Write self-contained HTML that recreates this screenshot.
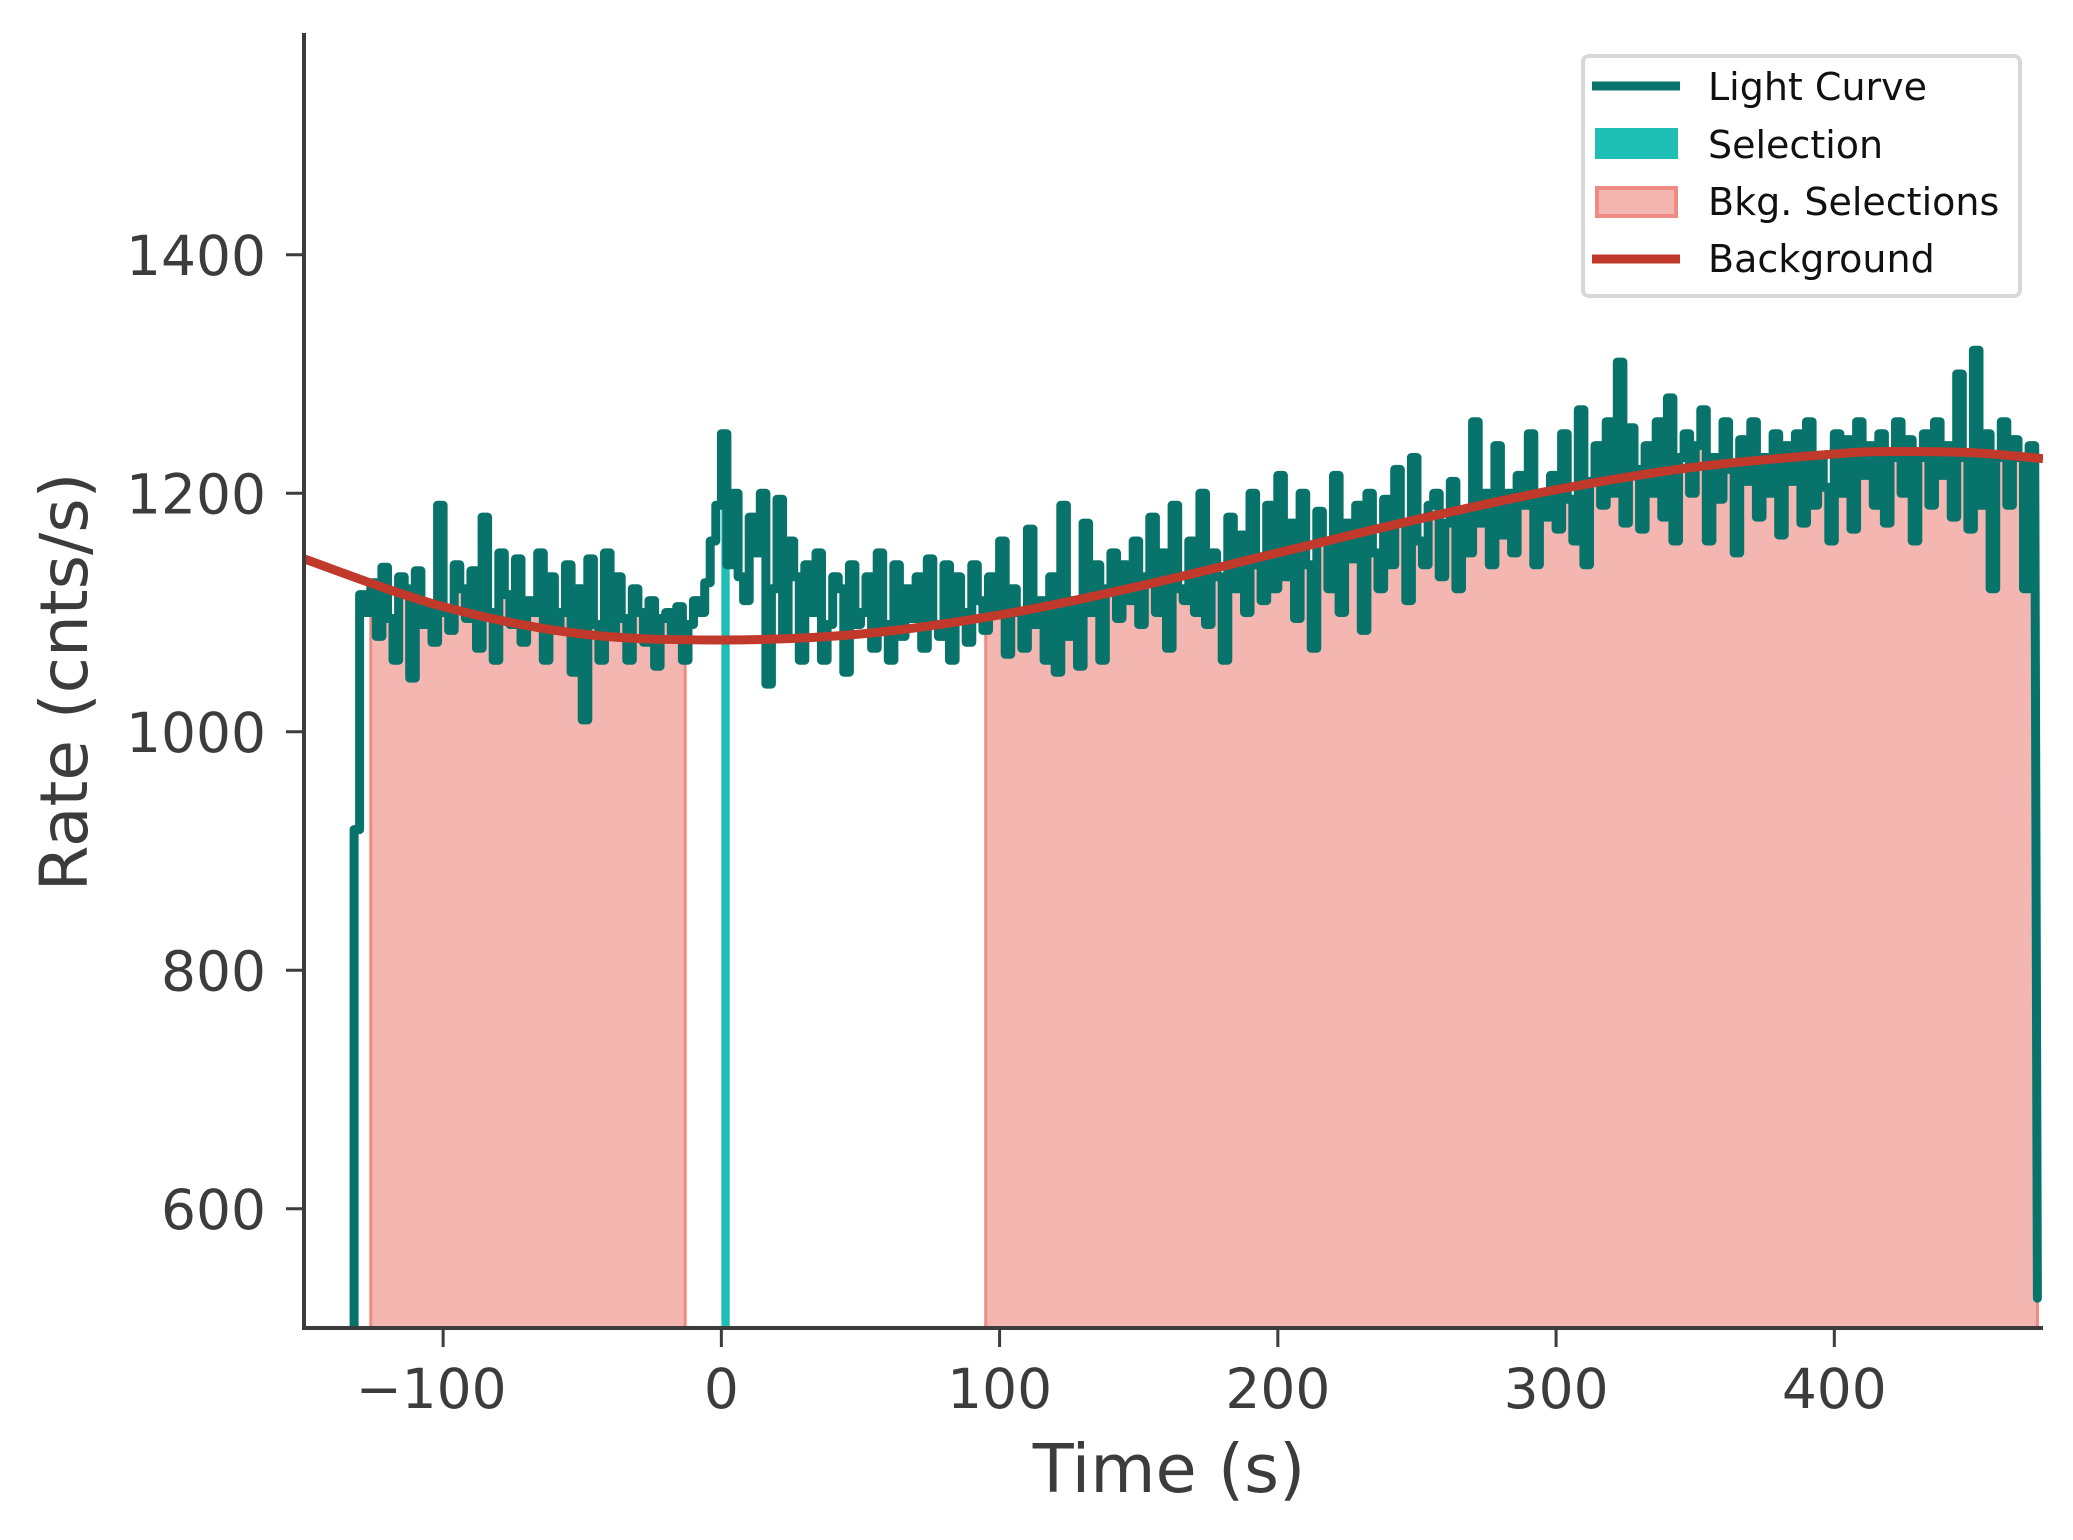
<!DOCTYPE html>
<html><head><meta charset="utf-8"><style>
html,body{margin:0;padding:0;background:#fff;}
svg{display:block;font-family:"DejaVu Sans","Liberation Sans",sans-serif;}
</style></head><body>
<svg id="chart" width="2073" height="1540" viewBox="0 0 2073 1540">
  <defs>
    <clipPath id="plotClip"><rect x="304" y="33" width="1739" height="1295"/></clipPath>
    <clipPath id="bkgClip"></clipPath>
    <clipPath id="selClip"></clipPath>
  </defs>
  <g id="fills" clip-path="url(#plotClip)"></g>
  <g id="series" clip-path="url(#plotClip)"></g>
  <g id="axes"></g>
  <g id="legend">
    <rect x="1583" y="56" width="437" height="240" rx="6" fill="#fff" stroke="#d8d8d8" stroke-width="4"/>
    <line x1="1592" y1="86" x2="1680" y2="86" stroke="#08736b" stroke-width="9"/>
    <text x="1708" y="100" font-size="38" fill="#111">Light Curve</text>
    <rect x="1595" y="128" width="83" height="31" fill="#20bfb5"/>
    <text x="1708" y="158" font-size="38" fill="#111">Selection</text>
    <rect x="1597" y="188" width="79" height="28" fill="#f4b6b1" stroke="#ee8b82" stroke-width="4"/>
    <text x="1708" y="215" font-size="38" fill="#111">Bkg. Selections</text>
    <line x1="1592" y1="259" x2="1680" y2="259" stroke="#c0392b" stroke-width="9"/>
    <text x="1708" y="272" font-size="38" fill="#111">Background</text>
  </g>
</svg>
<script>
const lcStart = -130;
const lcBin = 2;
const lcFirstValue = 918;
const lcLastValue = 525;
const lcEnd = 473;
const lcValues = [
1115,1100,1125,1080,1138,1095,1060,1130,1120,1045,1135,1090,1105,1075,1190,1100,1085,1140,1120,1095,1135,1070,1180,1100,1060,1150,1115,1090,1145,1075,
1110,1100,1150,1060,1130,1085,1100,1140,1050,1120,1010,1145,1090,1060,1150,1080,1130,1095,1060,1120,1100,1075,1110,1055,1095,1100,1080,1105,1060,1090,
1110,1100,1125,1160,1190,1250,1140,1200,1130,1110,1180,1150,1200,1040,1120,1195,1080,1160,1130,1060,1140,1100,1150,1060,1090,1130,1120,1050,1140,1090,
1100,1130,1070,1150,1090,1060,1140,1080,1120,1095,1130,1070,1145,1090,1080,1140,1060,1130,1100,1075,1140,1110,1085,1130,1100,1160,1065,1120,1100,1070,
1170,1090,1110,1060,1130,1050,1190,1080,1110,1055,1175,1100,1140,1060,1120,1150,1095,1140,1110,1160,1090,1130,1180,1100,1150,1070,1190,1120,1110,1160,
1100,1200,1090,1150,1130,1060,1180,1120,1165,1100,1200,1140,1110,1190,1120,1215,1130,1175,1095,1200,1140,1070,1185,1160,1120,1215,1100,1175,1145,1190,
1085,1200,1150,1120,1195,1140,1220,1175,1110,1230,1160,1140,1190,1200,1130,1175,1210,1120,1180,1150,1260,1175,1200,1140,1240,1165,1200,1150,1215,1190,
1250,1140,1200,1180,1215,1170,1250,1195,1160,1270,1140,1210,1240,1190,1260,1200,1310,1175,1255,1220,1170,1240,1200,1260,1180,1280,1160,1230,1250,1200,
1240,1270,1160,1230,1195,1260,1220,1150,1245,1210,1260,1180,1230,1200,1250,1165,1240,1210,1250,1175,1260,1190,1230,1205,1160,1250,1200,1245,1170,1260,
1215,1240,1190,1250,1175,1230,1260,1200,1245,1160,1230,1250,1190,1260,1215,1240,1180,1300,1230,1170,1320,1190,1250,1120,1230,1260,1190,1245,1230,1120,1240];
const bgTimes = [-150,-100,-50,0,50,100,150,200,250,300,350,400,420,450,475];
const bgValues = [1145,1105,1082,1077,1082,1098,1122,1150,1178,1203,1222,1233,1235,1234,1229];
const bkgRanges = [[-126,-13],[95,473]];
const selRange = [0,3];
const xTicks = [-100,0,100,200,300,400];
const yTicks = [600,800,1000,1200,1400];

const NS = "http://www.w3.org/2000/svg";
const X0=304, X1=2043, Y0=1328, Y1=33, XMIN=-150, XMAX=475, YMIN=500, YMAX=1586;
function xs(t){return X0+(t-XMIN)/(XMAX-XMIN)*(X1-X0);}
function ys(v){return Y0-(v-YMIN)/(YMAX-YMIN)*(Y0-Y1);}
function mk(tag, attrs, parent){const e=document.createElementNS(NS,tag);for(const k in attrs)e.setAttribute(k,attrs[k]);parent.appendChild(e);return e;}

let pts=[[xs(-132),ys(500)],[xs(-132),ys(lcFirstValue)],[xs(lcStart),ys(lcFirstValue)]];
lcValues.forEach((v,i)=>{const t0=lcStart+i*lcBin;const t1=Math.min(lcStart+(i+1)*lcBin,lcEnd);if(t0>=lcEnd)return;pts.push([xs(t0),ys(v)]);pts.push([xs(t1),ys(v)]);});
pts.push([xs(lcEnd),ys(lcLastValue)]);
const stepD = "M"+pts.map(p=>p[0].toFixed(1)+","+p[1].toFixed(1)).join("L");
const areaD = stepD + "L"+xs(lcEnd).toFixed(1)+","+Y0+"L"+xs(-132).toFixed(1)+","+Y0+"Z";

const bkgClip=document.getElementById('bkgClip');
bkgRanges.forEach(r=>{mk('rect',{x:xs(r[0]),y:Y1,width:xs(r[1])-xs(r[0]),height:Y0-Y1},bkgClip);});
const selClip=document.getElementById('selClip');
mk('rect',{x:xs(selRange[0]),y:Y1,width:xs(selRange[1])-xs(selRange[0]),height:Y0-Y1},selClip);

const fills=document.getElementById('fills');
const bkgFill=mk('path',{d:areaD,fill:'#f4b6b1','clip-path':'url(#bkgClip)'},fills);


bkgRanges.forEach(r=>{
  const e1=mk('line',{x1:xs(r[0]),y1:Y0,x2:xs(r[0]),y2:ys(1100),stroke:'#ee8b82','stroke-width':3},fills);
  
  
  const e2=mk('line',{x1:xs(r[1]),y1:Y0,x2:xs(r[1]),y2:ys(1100),stroke:'#ee8b82','stroke-width':3},fills);
  
  
});
const selFill=mk('path',{d:areaD,fill:'#20bfb5','clip-path':'url(#selClip)'},fills);



const series=document.getElementById('series');
const lc=mk('path',{d:stepD,fill:'none',stroke:'#08736b','stroke-width':9,'stroke-linejoin':'round','stroke-linecap':'round'},series);


let bd="M"+xs(bgTimes[0])+","+ys(bgValues[0]);
for(let i=0;i<bgTimes.length-1;i++){
  const p0=[xs(bgTimes[Math.max(i-1,0)]),ys(bgValues[Math.max(i-1,0)])];
  const p1=[xs(bgTimes[i]),ys(bgValues[i])];
  const p2=[xs(bgTimes[i+1]),ys(bgValues[i+1])];
  const p3=[xs(bgTimes[Math.min(i+2,bgTimes.length-1)]),ys(bgValues[Math.min(i+2,bgTimes.length-1)])];
  const c1=[p1[0]+(p2[0]-p0[0])/6,p1[1]+(p2[1]-p0[1])/6];
  const c2=[p2[0]-(p3[0]-p1[0])/6,p2[1]-(p3[1]-p1[1])/6];
  bd+="C"+c1.join(",")+" "+c2.join(",")+" "+p2.join(",");
}
const bg=mk('path',{d:bd,fill:'none',stroke:'#c0392b','stroke-width':9},series);



const axes=document.getElementById('axes');
const ax=mk('line',{x1:X0,y1:Y0,x2:X1,y2:Y0,stroke:'#3c3c3c','stroke-width':4},axes);


const ay=mk('line',{x1:X0,y1:Y0+2,x2:X0,y2:Y1,stroke:'#3c3c3c','stroke-width':4},axes);


xTicks.forEach(t=>{
  const tk=mk('line',{x1:xs(t),y1:Y0,x2:xs(t),y2:Y0+19,stroke:'#3c3c3c','stroke-width':3},axes);
  
  
  const s=(t<0?'\u2212':'')+Math.abs(t);
  const lb=mk('text',{x:xs(t)-(t<0?12:0),y:1408,'font-size':55,fill:'#3c3c3c','text-anchor':'middle'},axes);
  lb.textContent=s;
  
  
});
yTicks.forEach(v=>{
  const tk=mk('line',{x1:X0-18,y1:ys(v),x2:X0,y2:ys(v),stroke:'#3c3c3c','stroke-width':3},axes);
  
  
  const lb=mk('text',{x:266,y:ys(v)+20,'font-size':55,fill:'#3c3c3c','text-anchor':'end'},axes);
  lb.textContent=String(v);
  
  
});
const xt=mk('text',{x:1169,y:1492,'font-size':67,fill:'#3c3c3c','text-anchor':'middle'},axes);
xt.textContent='Time (s)';


const yt=mk('text',{x:0,y:0,'font-size':66,fill:'#3c3c3c','text-anchor':'middle',transform:'translate(87,682) rotate(-90)'},axes);
yt.textContent='Rate (cnts/s)';


</script>
</body></html>
